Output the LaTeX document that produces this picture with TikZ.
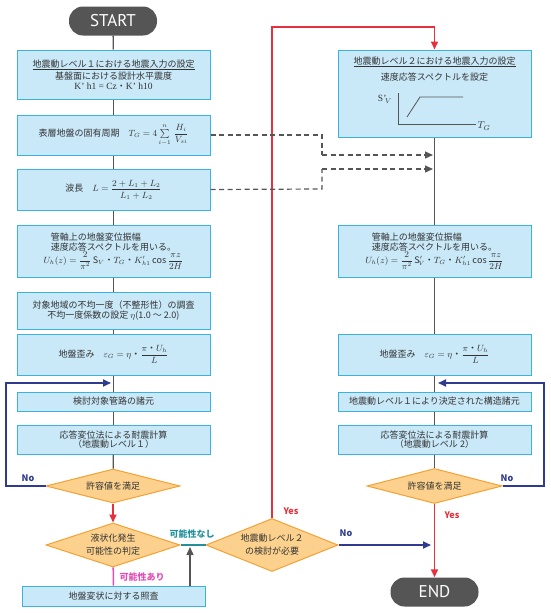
\documentclass[tikz,border=0pt]{standalone}
\usepackage{amsmath}
\usepackage{fontspec}
\setmainfont{Noto Sans CJK JP}
\newfontfamily\tms{Liberation Serif}
\newfontfamily\pill{PT Sans}
\usetikzlibrary{shapes.geometric,arrows.meta,calc}
\definecolor{boxfill}{HTML}{C9E8F8}
\definecolor{boxdraw}{HTML}{3AB2E8}
\definecolor{diafill}{HTML}{FCD18D}
\definecolor{diadraw}{HTML}{F5A033}
\definecolor{lgray}{HTML}{555555}
\definecolor{txt}{HTML}{333333}
\definecolor{fred}{HTML}{E5303D}
\definecolor{navy}{HTML}{2E3B8F}
\definecolor{teal}{HTML}{22909A}
\definecolor{pinkc}{HTML}{E04DB5}
\tikzset{
  box/.style={rectangle, draw=boxdraw, fill=boxfill, line width=1pt, minimum width=193pt, inner sep=0pt, align=center, text=txt, font=\fontsize{9}{11.5}\selectfont},
  dia/.style={diamond, draw=diadraw, fill=diafill, line width=1pt, inner sep=0pt, align=center, text=txt, font=\fontsize{9}{13}\selectfont},
  pillbox/.style={rectangle, rounded corners=14pt, fill=lgray, text=white, minimum width=88pt, minimum height=29pt, font=\pill\fontsize{17}{17}\selectfont},
  flow/.style={draw=lgray, line width=1.3pt},
  tip/.style={-{Triangle[length=8pt,width=7pt]}},
  redl/.style={draw=fred, line width=1.8pt},
  navyl/.style={draw=navy, line width=1.8pt},
  dashl/.style={draw=lgray, line width=1.2pt, dash pattern=on 5pt off 3.5pt},
  lab/.style={font=\fontsize{9}{10}\selectfont\bfseries},
}
\begin{document}
\begin{tikzpicture}[x=1pt,y=-1pt]
\useasboundingbox (0,0) rectangle (550,613);

% ---------- left column ----------
\node[pillbox] (start) at (113,21) {START};
\node[box, minimum height=49pt] (b1) at (113.5,74.5) {\underline{地震動レベル１における地震入力の設定}\\[1pt] 基盤面における設計水平震度\\[-2pt] {\tms\fontsize{9.5}{10}\selectfont K’ h1 = Cz}・{\tms\fontsize{9.5}{10}\selectfont K’ h10}};
\node[box, minimum height=40pt] (b2) at (113.5,135) {表層地盤の固有周期\quad$T_G=4\sum\limits_{i-1}^{n}\,\dfrac{H_i}{V_{si}}$};
\node[box, minimum height=41pt] (b3) at (113.5,189.5) {波長\quad$L=\dfrac{2+L_1+L_2}{L_1+L_2}$};
\node[box, minimum height=52pt] (b4) at (113.5,251) {\begin{tabular}{@{}l@{}}管軸上の地盤変位振幅\\[-2pt]速度応答スペクトルを用いる。\end{tabular}\\[-3pt] $U_h(z)=\dfrac{2}{\pi^2}\,\mathrm{S}_V$・$T_G$・$K'_{h1}\cos\dfrac{\pi z}{2H}$};
\node[box, minimum height=37pt] (b5) at (113.5,310.5) {対象地域の不均一度（不整形性）の調査\\[-1pt]不均一度係数の設定 $\eta$(1.0 〜 2.0)};
\node[box, minimum height=41pt] (b6) at (113.5,354.5) {地盤歪み\quad$\varepsilon_G=\eta$・$\dfrac{\pi\text{・}U_h}{L}$};
\node[box, minimum height=19pt] (b7) at (113.5,401.5) {検討対象管路の諸元};
\node[box, minimum height=29pt] (b8) at (113.5,439.5) {応答変位法による耐震計算\\[-2pt]（地震動レベル１）};
\node[dia, minimum width=134pt, minimum height=34pt, aspect=3.94] (d1) at (113,486) {許容値を満足};
\node[dia, minimum width=134pt, minimum height=44pt, aspect=3.05] (d2) at (113,545) {液状化発生\\可能性の判定};
\node[box, minimum width=183pt, minimum height=20pt] (b9) at (113.5,596) {地盤変状に対する照査};
\node[dia, minimum width=132pt, minimum height=53pt, aspect=2.49] (d3) at (272,545) {地震動レベル２\\の検討が必要};

% ---------- right column ----------
\node[box, minimum height=87pt] (r1) at (434.5,93.5) {};
\node[box, minimum height=52pt] (r2) at (434.5,251) {\begin{tabular}{@{}l@{}}管軸上の地盤変位振幅\\[-2pt]速度応答スペクトルを用いる。\end{tabular}\\[-3pt] $U_h(z)=\dfrac{2}{\pi^2}\,\mathrm{S}'_{\!V}$・$T_G$・$K'_{h1}\cos\dfrac{\pi z}{2H}$};
\node[box, minimum height=41pt] (r3) at (434.5,354.5) {地盤歪み\quad$\varepsilon_G=\eta$・$\dfrac{\pi\text{・}U_h}{L}$};
\node[box, minimum height=19pt] (r4) at (434.5,401.5) {地震動レベル１により決定された構造諸元};
\node[box, minimum height=29pt] (r5) at (434.5,439.5) {応答変位法による耐震計算\\[-2pt]（地震動レベル 2）};
\node[dia, minimum width=135pt, minimum height=35pt, aspect=3.86] (dr) at (434.5,486) {許容値を満足};
\node[pillbox] (end) at (434.5,592) {END};

% contents of r1
\node[text=txt, font=\fontsize{9}{11}\selectfont] (r1t1) at (434.5,62) {\underline{地震動レベル２における地震入力の設定}};
\node[text=txt, font=\fontsize{9}{11}\selectfont] (r1t2) at (434.5,77) {速度応答スペクトルを設定};
\coordinate (ax0) at (398,124);
\draw[draw=lgray, line width=0.8pt] (398,93) -- (ax0) -- (476,124);
\draw[draw=lgray, line width=0.8pt] (407,117) -- (420,97) -- (463,97);
\node[text=txt, font=\tms\fontsize{9.5}{9}\selectfont] (sv) at (385,99) {S’$_{\!V}$};
\node[text=txt] (tg) at (484,126) {$T_G$};

% ---------- connectors ----------
\draw[flow] (start) -- (b1);
\draw[flow] (b1) -- (b2);
\draw[flow] (b2) -- (b3);
\draw[flow] (b3) -- (b4);
\draw[flow] (b4) -- (b5);
\draw[flow] (b5) -- (b6);
\draw[flow] (b6) -- (b7);
\draw[flow] (b7) -- (b8);
\draw[flow] (b8) -- (d1);
\draw[redl, tip] (d1) -- (d2);
\draw[draw=pinkc, line width=1.5pt] (d2) -- (b9);
\node[text=pinkc, lab] (lab1) at (142,577) {可能性あり};

\coordinate (upA) at (190,586);
\coordinate (upB) at (190,547);
\draw[flow, tip] (upA) -- (upB);
\draw[draw=teal, line width=1.5pt] (d2.east) -- (d3.west);
\node[text=teal, lab] (lab2) at (192,534) {可能性なし};

% loop left
\coordinate (lpL) at (6,383);
\coordinate (lpLt) at (111,383);
\draw[navyl, tip] (d1.west) -| (lpL) -- (lpLt);
\node[text=navy, lab] (no1) at (28,478) {No};

% Yes to level 2
\coordinate (topR) at (434.5,27);
\draw[redl, tip] (d3.north) |- (topR) -- (r1.north);
\node[text=fred, lab] (yes1) at (291,511) {Yes};

% No to END line
\coordinate (noEnd) at (431,545);
\draw[navyl, tip] (d3.east) -- (noEnd);
\node[text=navy, lab] (no2) at (346,533) {No};

% right column
\draw[flow] (r1) -- (r2);
\draw[flow] (r2) -- (r3);
\draw[flow] (r3) -- (r4);
\draw[flow] (r4) -- (r5);
\draw[flow] (r5) -- (dr);
\draw[redl, tip] (dr) -- (end);
\node[text=fred, lab] (yes2) at (452,515) {Yes};

\coordinate (lpR) at (544,383);
\coordinate (lpRt) at (438,383);
\draw[navyl, tip] (dr.east) -| (lpR) -- (lpRt);
\node[text=navy, lab] (no3) at (507,478) {No};

% dashed
\coordinate (dA) at (322,135);
\coordinate (dB) at (322,155);
\coordinate (dBt) at (433,155);
\coordinate (dC) at (322,189);
\coordinate (dD) at (322,169);
\coordinate (dDt) at (433,169);
\draw[dashl] (b2.east) -- (dA) -- (dB);
\draw[dashl, tip] (dB) -- (dBt);
\draw[dashl] (b3.east) -- (dC) -- (dD);
\draw[dashl, tip] (dD) -- (dDt);
\end{tikzpicture}
\end{document}
